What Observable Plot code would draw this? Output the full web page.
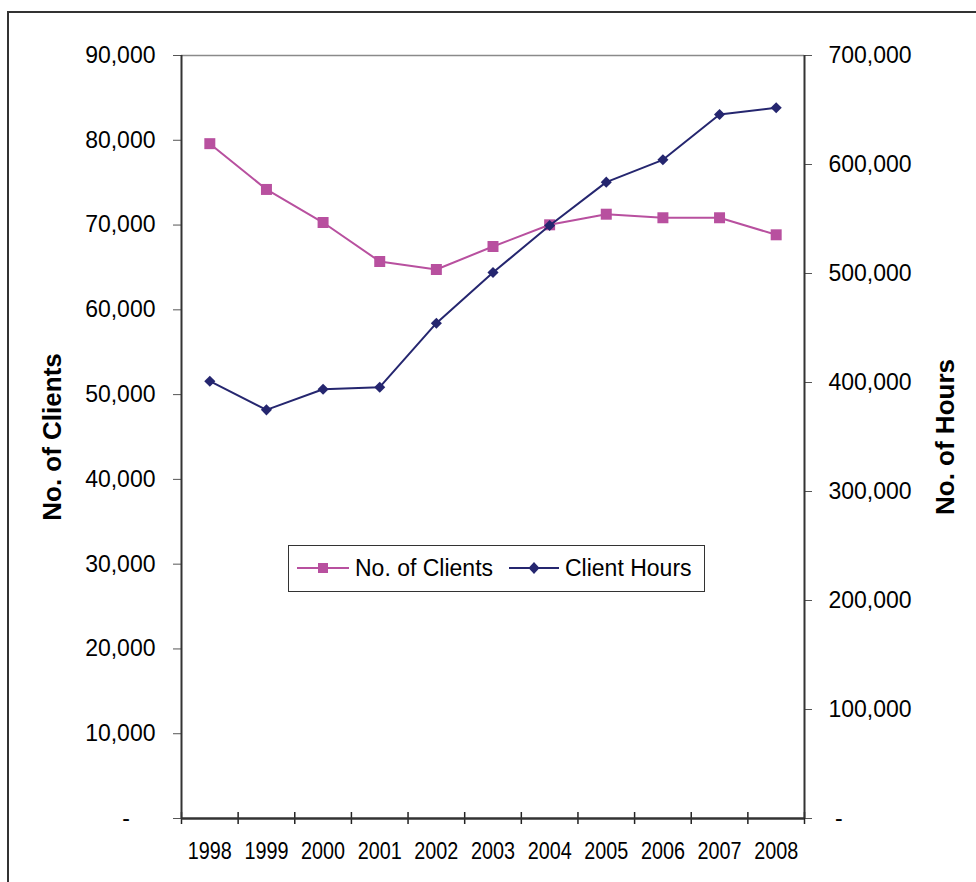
<!DOCTYPE html>
<html><head><meta charset="utf-8">
<script src="https://cdn.jsdelivr.net/npm/d3@7"></script>
<script src="https://cdn.jsdelivr.net/npm/@observablehq/plot@0.6"></script>
<style>
html,body{margin:0;padding:0;background:#fff;}
#wrap{position:relative;width:976px;height:882px;overflow:hidden;font-family:"Liberation Sans",Arial,sans-serif;}
#frame{position:absolute;left:7px;top:11px;width:1000px;height:920px;border:2px solid #333;box-sizing:border-box;}
#chart{position:absolute;left:0;top:0;}
.ytitle{position:absolute;font-weight:bold;font-size:26px;white-space:nowrap;transform:translate(-50%,-50%) rotate(-90deg);color:#000;}
#legend{position:absolute;left:288px;top:545px;width:417px;height:47px;border:1.5px solid #333;box-sizing:border-box;background:#fff;}
#legend .item{position:absolute;top:0;height:44px;display:flex;align-items:center;font-size:23px;white-space:nowrap;color:#000;}
</style></head>
<body>
<div id="wrap">
  <div id="frame"></div>
  <div id="chart"></div>
  <div class="ytitle" style="left:52px;top:437px;">No. of Clients</div>
  <div class="ytitle" style="left:945px;top:437px;">No. of Hours</div>
  <div id="legend"></div>
</div>
<script>
const years = [1998, 1999, 2000, 2001, 2002, 2003, 2004, 2005, 2006, 2007, 2008];
const clients = [79600, 74200, 70300, 65700, 64760, 67470, 70030, 71280, 70860, 70860, 68850];
const hours = [401200, 374900, 393800, 395700, 454400, 500900, 544000, 583800, 604300, 645900, 652000];
const clientTicks = [0, 10000, 20000, 30000, 40000, 50000, 60000, 70000, 80000, 90000];
const hourTicks = [0, 100000, 200000, 300000, 400000, 500000, 600000, 700000];
const seriesNames = ["No. of Clients", "Client Hours"];
const colors = ["#b8509f", "#25266f"];

const clientMax = 90000, hourMax = 700000;
const k = clientMax / hourMax;
const rows = years.map((year, i) => ({year, clients: clients[i], hours: hours[i] * k}));
const boundaries = years.map(y => y - 0.5).concat([years[years.length - 1] + 0.5]);
const fmt = d3.format(",");

const chart = Plot.plot({
  width: 976, height: 882,
  marginLeft: 181, marginRight: 172, marginTop: 55, marginBottom: 64,
  x: {type: "linear", domain: [boundaries[0], boundaries[boundaries.length - 1]], axis: null, label: null},
  y: {domain: [0, clientMax], axis: null, label: null},
  style: {fontFamily: "'Liberation Sans', Arial, sans-serif", background: "transparent", overflow: "visible", color: "#000"},
  marks: [
    Plot.ruleY([clientMax], {stroke: "#8a8a8a", strokeWidth: 1.5}),
    Plot.axisY({ticks: clientTicks, anchor: "left", tickSize: 8, tickPadding: 18, fontSize: 23, label: null,
      stroke: "#555", fill: "#000", tickFormat: d => d === 0 ? "-\u00a0\u00a0\u00a0\u00a0" : fmt(d)}),
    Plot.axisY({ticks: hourTicks.map(h => h * k), anchor: "right", tickSize: 7, tickPadding: 17, fontSize: 23, label: null,
      stroke: "#555", fill: "#000", tickFormat: d => Math.round(d / k) === 0 ? "\u00a0-" : fmt(Math.round(d / k))}),
    Plot.axisX({ticks: years, anchor: "bottom", tickSize: 0, tickPadding: 23, fontSize: 24, label: null,
      fill: "#000", tickFormat: d => String(d)}),
    Plot.ruleX(boundaries, {y1: 0, y2: 0, insetTop: -6, insetBottom: -6, stroke: "#222", strokeWidth: 1.5}),
    Plot.ruleX([boundaries[0], boundaries[boundaries.length - 1]], {stroke: "#333", strokeWidth: 2}),
    Plot.ruleY([0], {stroke: "#333", strokeWidth: 2.5}),
    Plot.line(rows, {x: "year", y: "clients", stroke: colors[0], strokeWidth: 2}),
    Plot.dot(rows, {x: "year", y: "clients", symbol: "square", r: 6.2, fill: colors[0], stroke: "none"}),
    Plot.line(rows, {x: "year", y: "hours", stroke: colors[1], strokeWidth: 2}),
    Plot.dot(rows, {x: "year", y: "hours", symbol: "diamond2", r: 5, fill: colors[1], stroke: "none"})
  ]
});
// condense the year labels like the original
const yearSet = new Set(years.map(String));
chart.querySelectorAll("text").forEach(t => {
  if (yearSet.has(t.textContent.trim())) {
    t.setAttribute("textLength", "44");
    t.setAttribute("lengthAdjust", "spacingAndGlyphs");
  }
});
document.getElementById("chart").appendChild(chart);

// legend
const legend = document.getElementById("legend");
const items = [
  {name: seriesNames[0], color: colors[0], left: 8, lineW: 52, shape: "square"},
  {name: seriesNames[1], color: colors[1], left: 220, lineW: 50, shape: "diamond"}
];
items.forEach(it => {
  const div = document.createElement("div");
  div.className = "item";
  div.style.left = it.left + "px";
  const w = it.lineW, h = 20, c = w / 2;
  const marker = it.shape === "square"
    ? `<rect x="${c - 5}" y="${h / 2 - 5}" width="10" height="10" fill="${it.color}"/>`
    : `<path d="M${c},${h / 2 - 6}L${c + 5.5},${h / 2}L${c},${h / 2 + 6}L${c - 5.5},${h / 2}Z" fill="${it.color}"/>`;
  div.innerHTML = `<svg width="${w}" height="${h}" style="margin-right:6px"><line x1="0" x2="${w}" y1="${h / 2}" y2="${h / 2}" stroke="${it.color}" stroke-width="2"/>${marker}</svg><span>${it.name}</span>`;
  legend.appendChild(div);
});
</script>
</body></html>
